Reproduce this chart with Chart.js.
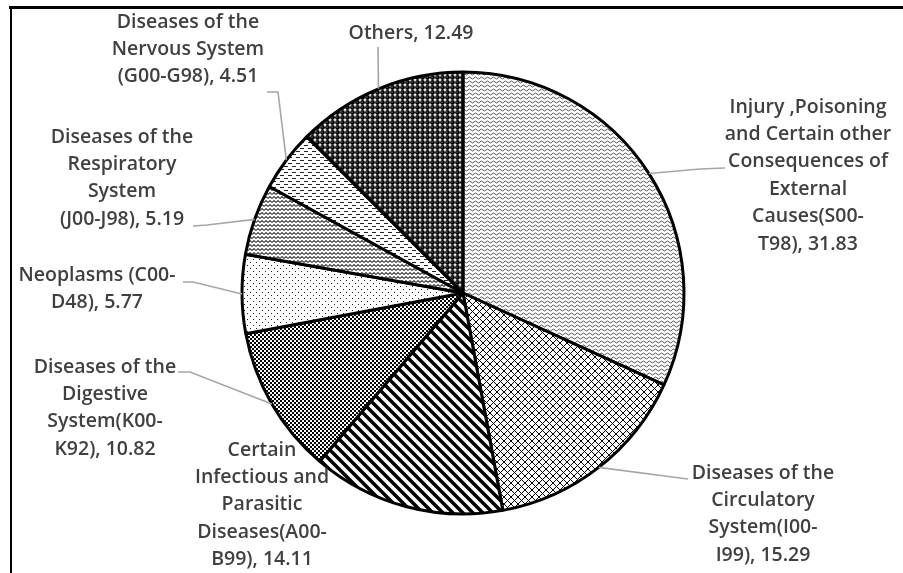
<!DOCTYPE html>
<html><head><meta charset="utf-8">
<script src="https://cdn.jsdelivr.net/npm/chart.js@4.4.0/dist/chart.umd.min.js"></script>
<style>html,body{margin:0;padding:0;background:#fff;}#wrap{width:903px;height:573px;position:relative;}</style>
</head><body><div id="wrap"><canvas id="c" width="903" height="573"></canvas></div>
<script>
// ---- data ----
const categories = [
  ["Injury ,Poisoning","and Certain other","Consequences of","External","Causes(S00-","T98)"],
  ["Diseases of the","Circulatory","System(I00-","I99)"],
  ["Certain","Infectious and","Parasitic","Diseases(A00-","B99)"],
  ["Diseases of the","Digestive","System(K00-","K92)"],
  ["Neoplasms (C00-","D48)"],
  ["Diseases of the","Respiratory","System","(J00-J98)"],
  ["Diseases of the","Nervous System","(G00-G98)"],
  ["Others"]
];
const values = [31.83, 15.29, 14.11, 10.82, 5.77, 5.19, 4.51, 12.49];

// ---- layout of labels (text block centre x, first line y, leader elbows) ----
const labelLayout = [
  {cx:808, y0:107, leader:[[700,169],[725,168]]},
  {cx:763, y0:473, leader:[[680,478],[688,479]]},
  {cx:262, y0:450, leader:[]},
  {cx:105, y0:367, leader:[[190,372],[178,372]]},
  {cx:97,  y0:275, leader:[[193,282],[183,282]]},
  {cx:122, y0:137, leader:[[207,225],[193,226]]},
  {cx:188, y0:22,  leader:[[278,92],[267,92]]},
  {cx:411, y0:33,  leader:[[378,47]]}
];
const lineHeight = 27.4;

const canvas = document.getElementById('c');
const ctx = canvas.getContext('2d');
function makePattern(w,h,draw){
  const c=document.createElement('canvas');c.width=w;c.height=h;
  const x=c.getContext('2d');x.fillStyle='#fff';x.fillRect(0,0,w,h);draw(x,w,h);
  return ctx.createPattern(c,'repeat');
}
const patterns = [
  makePattern(6,4,(x)=>{x.strokeStyle='#555';x.lineWidth=1;x.beginPath();x.moveTo(0,2);x.quadraticCurveTo(1.5,0,3,2);x.quadraticCurveTo(4.5,4,6,2);x.stroke();}),
  makePattern(7,7,(x,w,h)=>{x.strokeStyle='#000';x.lineWidth=1;x.beginPath();x.moveTo(-1,-1);x.lineTo(w+1,h+1);x.moveTo(w+1,-1);x.lineTo(-1,h+1);x.stroke();}),
  makePattern(10,10,(x)=>{x.strokeStyle='#000';x.lineWidth=3.5;x.beginPath();for(const k of [-10,0,10]){x.moveTo(k-2,-2);x.lineTo(k+12,12);}x.stroke();}),
  makePattern(4,4,(x)=>{x.fillStyle='#000';x.fillRect(0,0,2,2);x.fillRect(2,2,2,2);}),
  makePattern(6,6,(x)=>{x.fillStyle='#222';x.fillRect(1,1,1,1);x.fillRect(4,4,1,1);}),
  makePattern(8,8,(x)=>{x.strokeStyle='#444';x.lineWidth=1.1;x.beginPath();for(const y of [-4,0,4,8]){x.moveTo(0,y+2.5);x.lineTo(2,y+0.5);x.lineTo(4,y+2.5);x.lineTo(6,y+0.5);x.lineTo(8,y+2.5);}x.stroke();}),
  makePattern(8,6,(x)=>{x.fillStyle='#222';x.fillRect(0,1,4,1);x.fillRect(4,4,4,1);}),
  makePattern(5,5,(x)=>{x.fillStyle='#000';x.beginPath();x.arc(2.5,2.5,2.4,0,Math.PI*2);x.fill();x.fillStyle='#fff';x.beginPath();x.arc(2,2,0.5,0,Math.PI*2);x.fill();})
];

const labelPlugin = {
  id:'labels',
  afterDatasetsDraw(chart){
    const c=chart.ctx;
    const meta=chart.getDatasetMeta(0);
    c.save();
    c.strokeStyle='#a6a6a6';c.lineWidth=1.6;
    meta.data.forEach((arc,i)=>{
      const L=labelLayout[i]; if(!L.leader.length) return;
      const p=arc.getProps(['x','y','startAngle','endAngle','outerRadius'],true);
      const a=(p.startAngle+p.endAngle)/2;
      c.beginPath();
      c.moveTo(p.x+Math.cos(a)*p.outerRadius,p.y+Math.sin(a)*p.outerRadius);
      L.leader.forEach(q=>c.lineTo(q[0],q[1]));
      c.stroke();
    });
    c.fillStyle='#404040';
    c.font='600 19.5px "Open Sans"';
    c.textAlign='center';c.textBaseline='middle';
    categories.forEach((lines,i)=>{
      const L=labelLayout[i];
      const all=lines.slice();
      all[all.length-1]=all[all.length-1]+', '+values[i].toFixed(2);
      all.forEach((t,j)=>c.fillText(t,L.cx,L.y0+j*lineHeight));
    });
    c.restore();
  },
  afterDraw(chart){
    const c=chart.ctx;
    c.save();c.strokeStyle='#000';
    c.lineWidth=3;c.beginPath();c.moveTo(9,7.5);c.lineTo(903,7.5);c.stroke();
    c.lineWidth=2;c.beginPath();c.moveTo(11,6);c.lineTo(11,573);c.stroke();
    c.restore();
  }
};

new Chart(canvas,{
  type:'pie',
  data:{labels:categories.map(l=>l.join(' ')),datasets:[{data:values,backgroundColor:patterns,borderColor:'#000',borderWidth:3}]},
  options:{
    responsive:false,animation:false,radius:221,
    layout:{padding:{left:23,top:13,right:0,bottom:0}},
    plugins:{legend:{display:false},tooltip:{enabled:false}}
  },
  plugins:[labelPlugin]
});
</script></body></html>
